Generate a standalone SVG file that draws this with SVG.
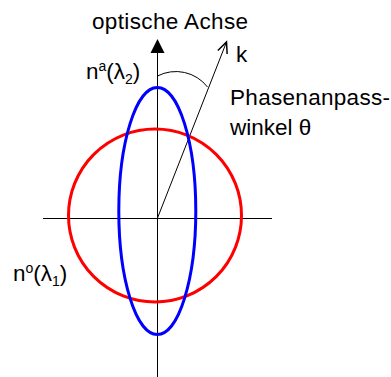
<svg xmlns="http://www.w3.org/2000/svg" width="391" height="377" viewBox="0 0 391 377">
<style>
.t{font-family:"Liberation Sans",Arial,sans-serif;font-size:22.5px;fill:#000}
.s{font-size:14px}
.ax{stroke:#000;stroke-width:1;fill:none}
</style>
<defs>
<marker id="open" markerWidth="14" markerHeight="14" refX="12" refY="6" orient="auto" markerUnits="userSpaceOnUse">
<path d="M1,1 L12,6 L1,11" fill="none" stroke="#000" stroke-width="1.5"/>
</marker>
</defs>
<rect width="391" height="377" fill="#fff"/>
<g id="connectors">
<line class="ax" x1="43" y1="218.5" x2="272" y2="218.5"/>
<line class="ax" x1="157.5" y1="377" x2="157.5" y2="50"/>
<polygon points="157.5,39 150.5,53 164.5,53" fill="#000"/>
<line class="ax" x1="157.5" y1="218" x2="226.5" y2="42" marker-end="url(#open)"/>
<path class="ax" d="M157.5,76 A40,40 0 0 1 207.5,87"/>
</g>
<g id="circle-no">
<circle cx="155" cy="215.5" r="86.5" fill="none" stroke="#ff0000" stroke-width="3"/>
</g>
<g id="ellipse-na">
<ellipse cx="157.3" cy="211" rx="38.5" ry="123.5" fill="none" stroke="#0000ff" stroke-width="3"/>
</g>
<g id="labels">
<text class="t" x="92" y="29" textLength="156" lengthAdjust="spacing">optische Achse</text>
<text class="t" x="236" y="62">k</text>
<text class="t" x="230" y="105" textLength="160" lengthAdjust="spacing">Phasenanpass-</text>
<text class="t" x="230" y="135">winkel θ</text>
<text class="t" x="86" y="79">n<tspan class="s" dy="-8">a</tspan><tspan dy="8">(λ</tspan><tspan class="s" dy="5">2</tspan><tspan dy="-5">)</tspan></text>
<text class="t" x="13" y="281">n<tspan class="s" dy="-8">o</tspan><tspan dy="8">(λ</tspan><tspan class="s" dy="5">1</tspan><tspan dy="-5">)</tspan></text>
</g>
</svg>
